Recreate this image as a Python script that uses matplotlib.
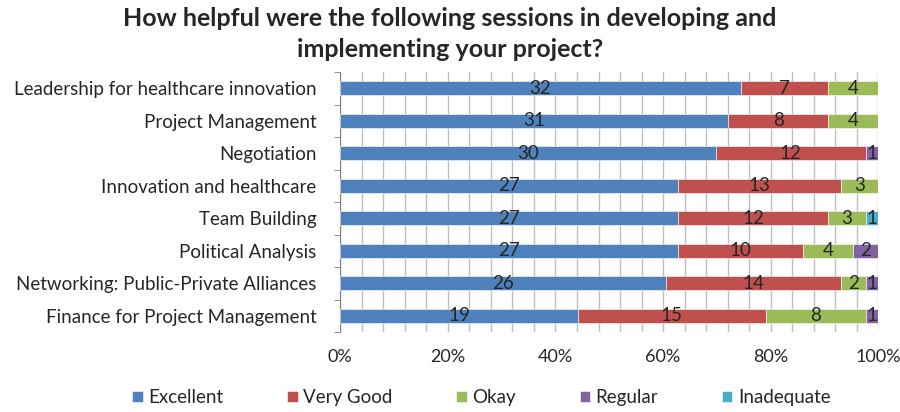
import numpy as np
import matplotlib
import matplotlib.pyplot as plt
from matplotlib.ticker import MultipleLocator, PercentFormatter

matplotlib.use('Agg')
plt.rcParams['font.family'] = ['Lato', 'DejaVu Sans']

categories = ['Leadership for healthcare innovation', 'Project Management', 'Negotiation',
              'Innovation and healthcare', 'Team Building', 'Political Analysis',
              'Networking: Public-Private Alliances', 'Finance for Project Management']
series = ['Excellent', 'Very Good', 'Okay', 'Regular', 'Inadequate']
excellent = [32, 31, 30, 27, 27, 27, 26, 19]
very_good = [7, 8, 12, 13, 12, 10, 14, 15]
okay = [4, 4, 0, 3, 3, 4, 2, 8]
regular = [0, 0, 1, 0, 0, 2, 1, 1]
inadequate = [0, 0, 0, 0, 1, 0, 0, 0]
colors = ['#4F81BD', '#C0504D', '#9BBB59', '#8064A2', '#4BACC6']

data = np.array([excellent, very_good, okay, regular, inadequate], dtype=float)
totals = data.sum(axis=0)
pct = data / totals * 100

fig = plt.figure(figsize=(9, 4.12), dpi=100)
ax = fig.add_axes([0.378, 0.194, 0.598, 0.631])

y = np.arange(len(categories))
left = np.zeros(len(categories))
for i, name in enumerate(series):
    ax.barh(y, pct[i], left=left, height=0.43, color=colors[i], label=name,
            edgecolor='white', linewidth=0.4, zorder=3)
    for j in range(len(categories)):
        if data[i, j] > 0:
            ax.text(left[j] + pct[i, j] / 2, y[j], '%d' % data[i, j], ha='center', va='center',
                    fontsize=13.5, color='#262626', zorder=4)
    left += pct[i]

ax.set_xlim(0, 100)
ax.set_ylim(len(categories) - 0.5, -0.5)
ax.set_yticks(y)
ax.set_yticklabels(categories, fontsize=13.5, color='#262626')
ax.set_yticks(np.arange(-0.5, len(categories)), minor=True)
ax.tick_params(axis='y', which='major', length=0, pad=17)
ax.tick_params(axis='y', which='minor', length=4, color='#808080')
ax.xaxis.set_major_locator(MultipleLocator(20))
ax.xaxis.set_minor_locator(MultipleLocator(4))
ax.xaxis.set_major_formatter(PercentFormatter(decimals=0))
ax.tick_params(axis='x', which='both', length=0, labelsize=13, labelcolor='#262626', pad=12)
ax.grid(axis='x', which='both', color='#BFBFBF', linewidth=1, zorder=0)
for s in ['top', 'right', 'bottom']:
    ax.spines[s].set_visible(False)
ax.spines['left'].set_color('#808080')

fig.text(0.5, 0.982, 'How helpful were the following sessions in developing and\nimplementing your project?',
         ha='center', va='top', fontsize=18, fontweight='bold', color='#262626', linespacing=1.4)

fig.legend(loc='center', bbox_to_anchor=(0.535, 0.035), ncol=5, frameon=False, fontsize=13.5,
           handlelength=0.55, handleheight=0.55, handletextpad=0.3, columnspacing=3.4,
           labelcolor='#262626')

fig.savefig('out.png', dpi=100)
